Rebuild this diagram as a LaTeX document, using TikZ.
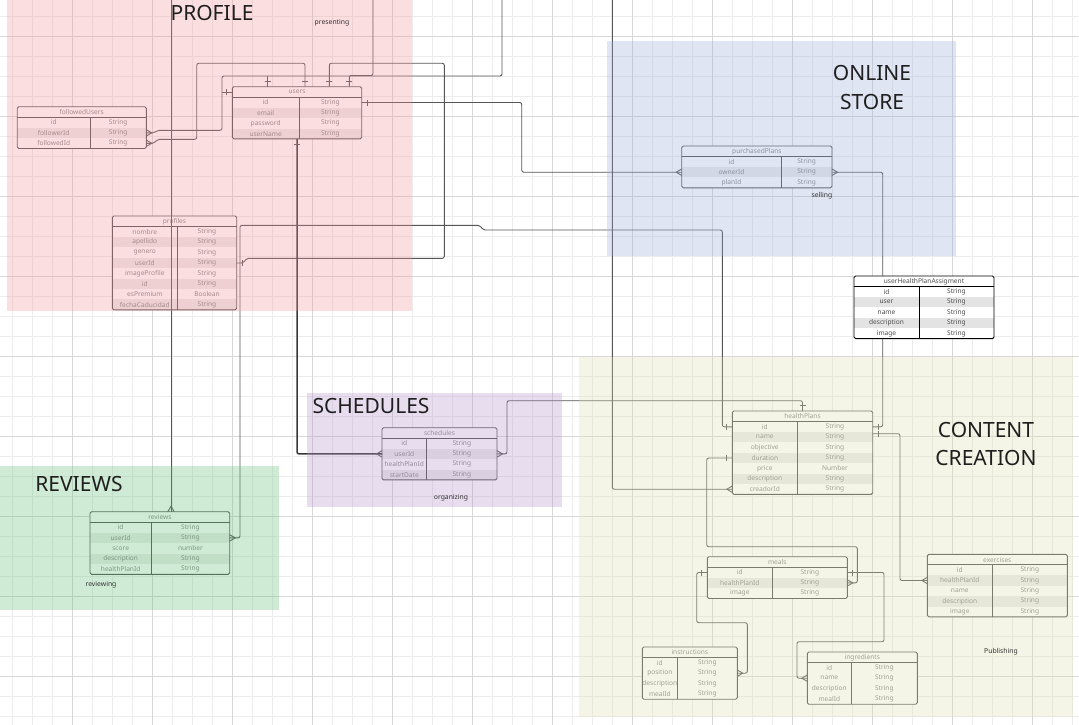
\documentclass[tikz,border=0pt]{standalone}
\usepackage{fontspec}
\setmainfont{Noto Sans}
\usetikzlibrary{calc}
\definecolor{gridminor}{HTML}{ECECEC}
\definecolor{gridmajor}{HTML}{D8D8D8}
\definecolor{bordcol}{HTML}{505050}
\definecolor{txtcol}{HTML}{858585}
\definecolor{conncol}{HTML}{555555}
\definecolor{pinkR}{HTML}{F5949B}
\definecolor{blueR}{HTML}{98ACD7}
\definecolor{greenR}{HTML}{62C076}
\definecolor{purpleR}{HTML}{B691CD}
\definecolor{yellowR}{HTML}{E1E1B2}
\colorlet{rowshade}{black!8}
\tikzset{
  conn/.style={draw=conncol, line width=0.9pt, rounded corners=2pt},
  endmark/.style={draw=conncol, line width=0.9pt},
  tabline/.style={draw=bordcol, line width=0.9pt},
  hdr/.style={minimum height=10.6pt, inner sep=0pt, outer sep=0pt, font=\fontsize{6.6}{7}\selectfont, text=txtcol, fill=white},
  rowbox/.style={minimum height=10.4pt, inner sep=0pt, outer sep=0pt},
  cell/.style={inner sep=0pt, font=\fontsize{6.6}{7}\selectfont, text=txtcol},
  region/.style={fill opacity=0.3, draw=none},
  bigtitle/.style={font=\fontsize{21}{24}\selectfont, text=black!88},
  tag/.style={font=\fontsize{6.8}{8}\selectfont, text=black!80},
  crowE/.pic={\draw[endmark] (0,-3.2) -- (5.5,0) -- (0,3.2);},
  crowW/.pic={\draw[endmark] (0,-3.2) -- (-5.5,0) -- (0,3.2);},
  crowN/.pic={\draw[endmark] (-3.2,0) -- (0,-5.5) -- (3.2,0);},
  tickE/.pic={\draw[endmark] (5.5,-3) -- (5.5,3);},
  tickW/.pic={\draw[endmark] (-5.5,-3) -- (-5.5,3);},
  tickN/.pic={\draw[endmark] (-3,-5.5) -- (3,-5.5);},
  tickS/.pic={\draw[endmark] (-3,5.5) -- (3,5.5);},
}
% #1 name, #2 left, #3 top, #4 width, #5 left column width, #6 title, #7 shade colour, #8 number of rows, #9 rows
\newcommand\ertab[9]{%
  \node[hdr, minimum width=#4pt, anchor=north west] (#1) at (#2,#3) {#6};
  \foreach [count=\k] \fa/\fb in {#9} {%
    \ifodd\k\relax\def\rowfill{white}\else\def\rowfill{#7}\fi
    \node[rowbox, minimum width=#4pt, anchor=north west, fill=\rowfill] (#1-\k) at ($(#1.south west)+(0,{10.4*(\k-1)})$) {};
    \node[cell] (#1-\k-f) at ($(#1-\k.west)+({#5/2},0)$) {\fa};
    \node[cell] (#1-\k-t) at ($(#1-\k.east)+({-(#4-#5)/2},0)$) {\fb};
  }
  \draw[tabline] (#1.south west) -- (#1.south east);
  \draw[tabline] ($(#1.south west)+(#5,0)$) -- ($(#1-#8.south west)+(#5,0)$);
  \draw[tabline, rounded corners=1.5pt] (#1.north west) rectangle (#1-#8.south east);
}
\begin{document}
\begin{tikzpicture}[x=1pt, y=-1pt]
\useasboundingbox (0,0) rectangle (1079,725);
\fill[white] (0,0) rectangle (1079,725);
% grid
\foreach \gx in {12,32,...,1072} \draw[gridminor, line width=0.6pt] (\gx,0) -- (\gx,725);
\foreach \gy in {16,36,...,716} \draw[gridminor, line width=0.6pt] (0,\gy) -- (1079,\gy);
\foreach \gx in {72,152,...,1032} \draw[gridmajor, line width=0.7pt] (\gx,0) -- (\gx,725);
\foreach \gy in {36,116,...,676} \draw[gridmajor, line width=0.7pt] (0,\gy) -- (1079,\gy);

% tables
\ertab{users}{232.3}{86.7}{129.4}{66.7}{users}{rowshade}{4}{id/String, email/String, password/String, userName/String}
\ertab{followedUsers}{17.2}{106.7}{129.1}{73}{followedUsers}{rowshade}{3}{id/String, followerId/String, followedId/String}
\ertab{profiles}{112.3}{216}{124.4}{65}{profiles}{rowshade}{8}{nombre/String, apellido/String, genero/String, userId/String, imageProfile/String, id/String, esPremium/Boolean, fechaCaducidad/String}
\ertab{purchasedPlans}{681.7}{146}{150.3}{99.5}{purchasedPlans}{rowshade}{3}{id/String, ownerId/String, planId/String}
\begin{scope}
\colorlet{bordcol}{black}
\colorlet{txtcol}{black!70}
\ertab{userHealthPlanAssigment}{854}{276}{140}{65}{userHealthPlanAssigment}{black!11}{5}{id/String, user/String, name/String, description/String, image/String}
\end{scope}
\ertab{reviews}{90}{511.7}{139.7}{61.3}{reviews}{rowshade}{5}{id/String, userId/String, score/number, description/String, healthPlanId/String}
\ertab{schedules}{382}{427.7}{115}{44.6}{schedules}{rowshade}{4}{id/String, userId/String, healthPlanId/String, startDate/String}
\ertab{healthPlans}{732.3}{411}{140.4}{65}{healthPlans}{rowshade}{7}{id/String, name/String, objective/String, duration/String, price/Number, description/String, creadorId/String}
\ertab{meals}{707.3}{556.7}{140}{65}{meals}{rowshade}{3}{id/String, healthPlanId/String, image/String}
\ertab{exercises}{927.3}{554.3}{140}{65}{exercises}{rowshade}{5}{id/String, healthPlanId/String, name/String, description/String, image/String}
\ertab{instructions}{642.3}{647}{95}{35}{instructions}{white}{4}{id/String, position/String, description/String, mealId/String}
\ertab{ingredients}{807.3}{652}{110}{44}{ingredients}{white}{4}{id/String, name/String, description/String, mealId/String}

% free ends at the top edge
\coordinate (topA) at (171,0);
\coordinate (topB) at (502,0);
\coordinate (topC) at (373,0);
\coordinate (topD) at (612.3,0);

% connectors
\draw[conn] (topA) -- (topA |- reviews.north);
\pic at (topA |- reviews.north) {crowN};

\draw[conn] (followedUsers-2.east) -- ++(8,0) -- ++(3,-2.6) -| (222,76) -- (502,76) -- (topB);
\pic at (followedUsers-2.east) {crowE};

\draw[conn] (topC) |- ($(users.north west)+(117,-11.2)$) -- ($(users.north west)+(117,0)$);
\pic at ($(users.north west)+(117,0)$) {tickN};

\draw[conn] ($(users.north west)+(35.4,0)$) -- ++(0,-10.7);
\pic at ($(users.north west)+(35.4,0)$) {tickN};

\draw[conn] (users.west) -- ++(-10.3,0);
\pic at (users.west) {tickW};

\draw[conn] (followedUsers-3.east) -- ++(8,0) -- ++(3,-4) -| (196.7,63.3) -| ($(users.north west)+(72.7,0)$);
\pic at (followedUsers-3.east) {crowE};
\pic at ($(users.north west)+(72.7,0)$) {tickN};

\draw[conn] ($(users.north west)+(97,0)$) |- (444.3,63.3) |- (246.5,258.3) -- (243.5,263) -- (profiles-4.east);
\pic at ($(users.north west)+(97,0)$) {tickN};
\pic at (profiles-4.east) {tickE};

\draw[conn] (users-1.east) -| (521.7,130) |- (purchasedPlans-2.west);
\pic at (users-1.east) {tickE};
\pic at (purchasedPlans-2.west) {crowW};

\draw[conn] (purchasedPlans-2.east) -- ++(50.7,0) coordinate (c9a) -- (c9a |- userHealthPlanAssigment.north);
\draw[conn] (c9a |- userHealthPlanAssigment-5.south) -- (c9a |- healthPlans-1.east) -- (healthPlans-1.east);
\pic at (purchasedPlans-2.east) {crowE};
\pic at (healthPlans-1.east) {tickE};

\draw[conn, line width=1.5pt, draw=black!78] (users-4.south) |- (schedules-2.west);
\pic at (users-4.south) {tickS};
\pic at (schedules-2.west) {crowW};

\draw[conn] (schedules-2.east) -- ++(10,0) |- ($(healthPlans.north)+(0,-10.3)$) -- (healthPlans.north);
\pic at (schedules-2.east) {crowE};
\pic at (healthPlans.north) {tickN};

\draw[conn] (reviews-2.east) -| (240,300) |- (480,225.3) -- (483,230) -| ($(healthPlans-1.west)+(-10,0)$) -- (healthPlans-1.west);
\pic at (reviews-2.east) {crowE};
\pic at (healthPlans-1.west) {tickW};

\draw[conn] (topD) |- (healthPlans-7.west);
\pic at (healthPlans-7.west) {crowW};

\draw[conn] ($(healthPlans-2.east)+(0,-3.5)$) -| (900,500) |- (exercises-2.west);
\pic at ($(healthPlans-2.east)+(0,-3.5)$) {tickE};
\pic at (exercises-2.west) {crowW};

\draw[conn] (healthPlans-4.west) -| (706.7,520) |- (857.3,546.7) |- (meals-2.east);
\pic at (healthPlans-4.west) {tickW};
\pic at (meals-2.east) {crowE};

\draw[conn] (meals-1.west) -| (696.7,600) |- (747.3,622.7) |- (instructions-2.east);
\pic at (meals-1.west) {tickW};
\pic at (instructions-2.east) {crowE};

\draw[conn] (meals-1.east) -| (884,600) |- (797,641.7) |- (ingredients-2.west);
\pic at (meals-1.east) {tickE};
\pic at (ingredients-2.west) {crowW};

% region overlays
\fill[pinkR, region] (7,0) rectangle (412,311);
\fill[blueR, region] (607,41) rectangle (956,256);
\fill[greenR, region] (0,466) rectangle (279,610);
\fill[purpleR, region] (307,393) rectangle (562,507);
\fill[yellowR, region] (579,357) rectangle (1073,717);

% titles and tags
\node[bigtitle] (tProfile) at (212,13) {PROFILE};
\node[tag] (tPresenting) at (332,23) {presenting};
\node[bigtitle] (tOnline) at (872,73) {ONLINE};
\node[bigtitle] (tStore) at (872,102) {STORE};
\node[tag] (tSelling) at (822,196) {selling};
\node[bigtitle] (tReviews) at (79,484) {REVIEWS};
\node[tag] (tReviewing) at (101,585) {reviewing};
\node[bigtitle] (tSchedules) at (371,406) {SCHEDULES};
\node[tag] (tOrganizing) at (451,498) {organizing};
\node[bigtitle] (tContent) at (986,430) {CONTENT};
\node[bigtitle] (tCreation) at (986,458) {CREATION};
\node[tag] (tPublishing) at (1001,652) {Publishing};
\end{tikzpicture}
\end{document}
